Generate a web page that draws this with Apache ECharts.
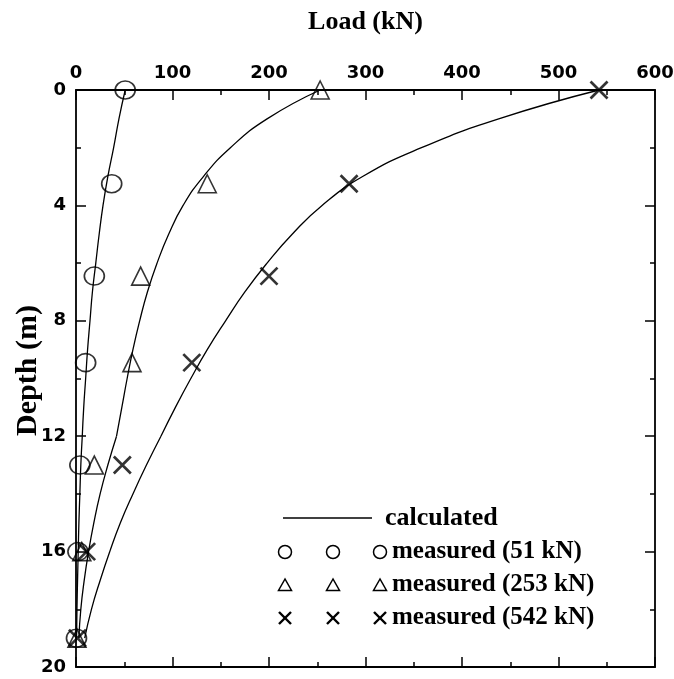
<!DOCTYPE html>
<html>
<head>
<meta charset="utf-8">
<script src="https://cdn.jsdelivr.net/npm/echarts@6/dist/echarts.min.js"></script>
<style>
html,body{margin:0;padding:0;background:#fff;}
#chart{width:674px;height:679px;}
</style>
</head>
<body>
<div id="chart"></div>
<script>
// ---- data ----
const xTickLabels = ['0', '100', '200', '300', '400', '500', '600'];
const yTickLabels = ['0', '4', '8', '12', '16', '20'];

const measuredDepths = [0, 3.25, 6.45, 9.45, 13, 16, 19];
const measured51  = [51, 37, 19, 10, 4, 2, 0.5];
const measured253 = [253, 136, 67, 58, 19, 6, 1];
const measured542 = [542, 283, 200, 120, 48, 11, 1.5];

// calculated curves, upper layer (0-12 m) and lower layer (12-19 m)
const calcDepths = [0, 1, 2, 3, 4, 5, 6, 7, 8, 9, 10, 11, 12, 13, 14, 15, 16, 17, 18, 19];
const calc51  = [51, 44.5, 39, 33, 28, 24, 20.5, 17, 14.5, 12, 10, 8, 6.5, 5, 4, 3, 2.3, 1.6, 1, 0.6];
const calc253 = [253, 198, 160, 132, 111, 96, 84, 74, 66, 59, 53, 47.5, 42, 33, 25, 18.5, 13, 8.5, 5, 3];
const calc542 = [542, 438, 358, 297, 255, 224, 198, 175, 155, 136, 119, 103, 88, 73, 59, 46, 35, 25, 16, 9];
const layerBreakIndex = 12; // depth 12 m

const legendLabels = ['calculated', 'measured (51 kN)', 'measured (253 kN)', 'measured (542 kN)'];

// ---- build ----
const pairs = (xs, ys) => xs.map((v, i) => [v, ys[i]]);
const serifBold = {fontFamily: 'Liberation Serif', fontWeight: 'bold', color: '#000'};
const sansBold = {fontFamily: 'DejaVu Sans', fontWeight: 'bold', color: '#000'};
const black = '#000';

function xAx(pos, labels) {
  return {
    type: 'value', position: pos, min: 0, max: 600, interval: 100,
    axisLine: {show: true, onZero: false, lineStyle: {color: black, width: 1.8}},
    axisTick: {show: true, inside: true, length: 10, lineStyle: {color: black, width: 1.5}},
    minorTick: {show: true, splitNumber: 2, length: 5, lineStyle: {color: black, width: 1.5}},
    splitLine: {show: false},
    axisLabel: labels ? Object.assign({show: true, fontSize: 18, margin: 8,
      formatter: v => xTickLabels[Math.round(v / 100)] || ''}, sansBold) : {show: false}
  };
}
function yAx(pos, labels) {
  return {
    type: 'value', position: pos, inverse: true, min: 0, max: 20, interval: 4,
    axisLine: {show: true, onZero: false, lineStyle: {color: black, width: 1.8}},
    axisTick: {show: true, inside: true, length: 10, lineStyle: {color: black, width: 1.5}},
    minorTick: {show: true, splitNumber: 2, length: 5, lineStyle: {color: black, width: 1.5}},
    splitLine: {show: false},
    axisLabel: labels ? Object.assign({show: true, fontSize: 18, margin: 10,
      formatter: v => yTickLabels[Math.round(v / 4)] || ''}, sansBold) : {show: false}
  };
}

const xAxes = [xAx('top', true), xAx('bottom', false)];
Object.assign(xAxes[0], {
  name: 'Load (kN)', nameLocation: 'middle', nameGap: 55, nameMoveOverlap: false,
  nameTextStyle: Object.assign({fontSize: 26}, serifBold)
});

const yAxes = [yAx('left', true), yAx('right', false)];
Object.assign(yAxes[0], {
  name: 'Depth (m)', nameLocation: 'middle', nameGap: 33, nameRotate: 90, nameMoveOverlap: false,
  nameTextStyle: Object.assign({fontSize: 30, padding: [0, 0, 0, 16]}, serifBold)
});

const lineSeries = [];
[calc51, calc253, calc542].forEach((c, i) => {
  const all = pairs(c, calcDepths);
  [all.slice(0, layerBreakIndex + 1), all.slice(layerBreakIndex)].forEach((part, j) => {
    lineSeries.push({
      type: 'line', name: 'calculated ' + i + '-' + j, xAxisIndex: 0, yAxisIndex: 0,
      data: part, showSymbol: false, symbol: 'none', smooth: 0.5,
      lineStyle: {color: black, width: 1.3}, z: 2, silent: true
    });
  });
});

const xPath = 'path://M0,0L10,10M10,0L0,10';
const scatterDefs = [
  {d: measured51, symbol: 'circle', size: [20, 18], bw: 1.6},
  {d: measured253, symbol: 'triangle', size: 18, bw: 1.6},
  {d: measured542, symbol: xPath, size: 17, bw: 2.7}
];
const scatterSeries = scatterDefs.map((s, i) => ({
  type: 'scatter', name: legendLabels[i + 1], xAxisIndex: 0, yAxisIndex: 0,
  data: pairs(s.d, measuredDepths), symbol: s.symbol, symbolSize: s.size,
  itemStyle: {color: 'rgba(0,0,0,0)', borderColor: black, borderWidth: s.bw},
  z: 3, silent: true
}));

// legend drawn as graphic (three symbols per row like the original)
const legRowsY = [518, 552, 585, 618];
const legSymX = [285, 333, 380];
const legTextX = 392;
const legFont = 'bold 25px "Liberation Serif"';
const g = [];
g.push({type: 'line', shape: {x1: 283, y1: legRowsY[0], x2: 372, y2: legRowsY[0]}, style: {stroke: black, lineWidth: 1.3}});
g.push({type: 'text', x: 385, y: legRowsY[0], style: {text: legendLabels[0], font: 'bold 26px "Liberation Serif"', fill: black, verticalAlign: 'middle', align: 'left'}});
legSymX.forEach(x => {
  g.push({type: 'circle', shape: {cx: x, cy: legRowsY[1], r: 6.5}, style: {fill: 'none', stroke: black, lineWidth: 1.5}});
  const ty = legRowsY[2];
  g.push({type: 'polygon', shape: {points: [[x, ty - 6], [x - 6.5, ty + 5.5], [x + 6.5, ty + 5.5]]}, style: {fill: 'none', stroke: black, lineWidth: 1.5}});
  const xy = legRowsY[3];
  g.push({type: 'polyline', shape: {points: [[x - 6, xy - 6], [x + 6, xy + 6]]}, style: {stroke: black, lineWidth: 2.4}});
  g.push({type: 'polyline', shape: {points: [[x + 6, xy - 6], [x - 6, xy + 6]]}, style: {stroke: black, lineWidth: 2.4}});
});
[1, 2, 3].forEach(r => {
  g.push({type: 'text', x: legTextX, y: legRowsY[r], style: {text: legendLabels[r], font: legFont, fill: black, verticalAlign: 'middle', align: 'left'}});
});

const chart = echarts.init(document.getElementById('chart'), null, {renderer: 'canvas'});
chart.setOption({
  animation: false,
  backgroundColor: '#fff',
  grid: {left: 76, right: 19, top: 90, bottom: 12, containLabel: false, outerBoundsMode: 'none'},
  xAxis: xAxes,
  yAxis: yAxes,
  series: lineSeries.concat(scatterSeries),
  graphic: g
});
</script>
</body>
</html>
